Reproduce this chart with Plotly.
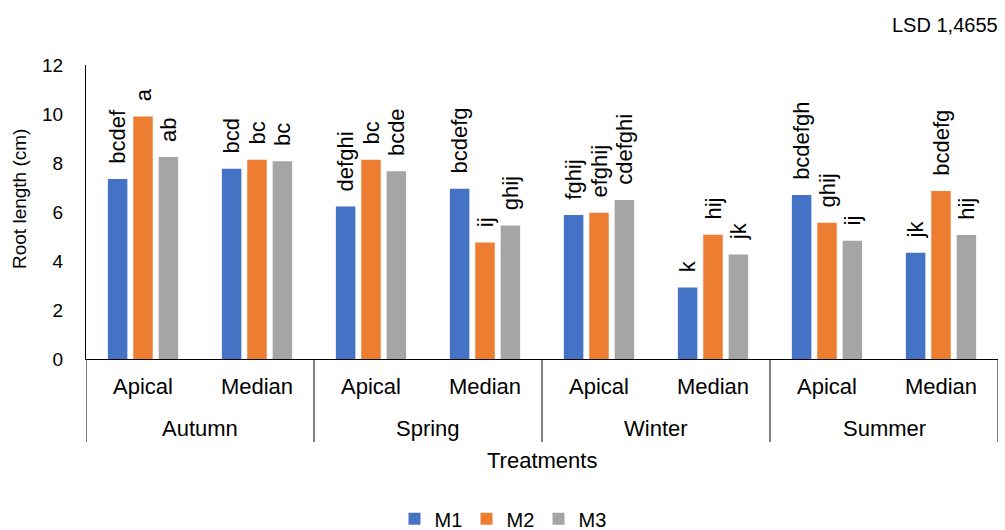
import plotly.graph_objects as go

seasons = ["Autumn", "Autumn", "Spring", "Spring", "Winter", "Winter", "Summer", "Summer"]
parts = ["Apical", "Median", "Apical", "Median", "Apical", "Median", "Apical", "Median"]

m1 = [7.35, 7.77, 6.22, 6.95, 5.88, 2.92, 6.69, 4.34]
m2 = [9.90, 8.13, 8.13, 4.76, 5.97, 5.07, 5.56, 6.86]
m3 = [8.24, 8.07, 7.66, 5.45, 6.49, 4.27, 4.83, 5.06]

m1_letters = ["bcdef", "bcd", "defghi", "bcdefg", "fghij", "k", "bcdefgh", "jk"]
m2_letters = ["a", "bc", "bc", "ij", "efghij", "hij", "ghij", "bcdefg"]
m3_letters = ["ab", "bc", "bcde", "ghij", "cdefghi", "jk", "ij", "hij"]

series = [("M1", m1, m1_letters, "#4472C4"),
          ("M2", m2, m2_letters, "#ED7D31"),
          ("M3", m3, m3_letters, "#A5A5A5")]

FONT = "Liberation Sans, Arial, sans-serif"
pad = "\u00a0\u00a0"

PLOT_TOP, PLOT_BOTTOM = 65, 359
PLOT_H = PLOT_BOTTOM - PLOT_TOP


def py(pixel_y):
    return (PLOT_BOTTOM - pixel_y) / PLOT_H


keys = [f"{s} {p}" for s, p in zip(seasons, parts)]

fig = go.Figure()
for name, vals, letters, color in series:
    fig.add_trace(go.Bar(
        name=name,
        x=keys,
        y=vals,
        marker=dict(color=color, line=dict(width=0)),
        text=[pad + t for t in letters],
        textposition="outside",
        textangle=-90,
        constraintext="none",
        cliponaxis=False,
        textfont=dict(family=FONT, size=22, color="black"),
    ))

fig.update_layout(
    width=1005, height=530,
    paper_bgcolor="white", plot_bgcolor="white",
    margin=dict(l=86, r=7, t=PLOT_TOP, b=530 - PLOT_BOTTOM),
    barmode="group",
    bargap=0.332, bargroupgap=0.232,
    font=dict(family=FONT, color="black"),
    showlegend=True,
    legend=dict(orientation="h", x=0.5, xanchor="center", xref="container",
                y=0.021, yanchor="middle", yref="container",
                font=dict(family=FONT, size=20, color="black"),
                itemwidth=30, traceorder="normal",
                entrywidth=27, entrywidthmode="pixels"),
)

fig.update_xaxes(
    type="category", range=[-0.5, len(keys) - 0.5],
    tickvals=keys, ticktext=parts,
    showline=True, linecolor="black", linewidth=1,
    ticks="", showgrid=False,
    tickfont=dict(family=FONT, size=22, color="black"),
    ticklabelstandoff=8,
)
fig.update_yaxes(
    range=[0, 12], dtick=2,
    showline=True, linecolor="black", linewidth=1,
    ticks="", showgrid=False, zeroline=False,
    tickfont=dict(family=FONT, size=19, color="black"),
    ticklabelstandoff=18,
)

# season group labels and dividers (Excel-style multi-level axis)
groups = []
for i, s in enumerate(seasons):
    if not groups or groups[-1][0] != s:
        groups.append([s, i, i])
    else:
        groups[-1][2] = i
for s, a, b in groups:
    fig.add_annotation(text=s, xref="x", x=(a + b) / 2, yref="paper", y=py(428),
                       yanchor="middle", showarrow=False,
                       font=dict(family=FONT, size=22, color="black"))
bounds = [groups[0][1] - 0.5] + [b + 0.5 for _, _, b in groups]
for xb in bounds:
    fig.add_shape(type="line", xref="x", x0=xb, x1=xb, yref="paper", y0=0, y1=py(442),
                  line=dict(color="black", width=1))

fig.add_annotation(text="Treatments", xref="paper", x=0.5, xanchor="center",
                   yref="paper", y=py(460), yanchor="middle", showarrow=False,
                   font=dict(family=FONT, size=22, color="black"))
fig.add_annotation(text="Root length (cm)", textangle=-90,
                   xref="paper", x=0, xshift=-66, xanchor="center",
                   yref="paper", y=py(199), yanchor="middle", showarrow=False,
                   font=dict(family=FONT, size=19, color="black"))
fig.add_annotation(text="LSD 1,4655", xref="paper", x=1, xanchor="right", xshift=2,
                   yref="paper", y=py(25), yanchor="middle", showarrow=False,
                   font=dict(family=FONT, size=20, color="black"))

fig.write_html("out.html", config={"displayModeBar": False},
               post_script="document.body.style.margin='0';")
